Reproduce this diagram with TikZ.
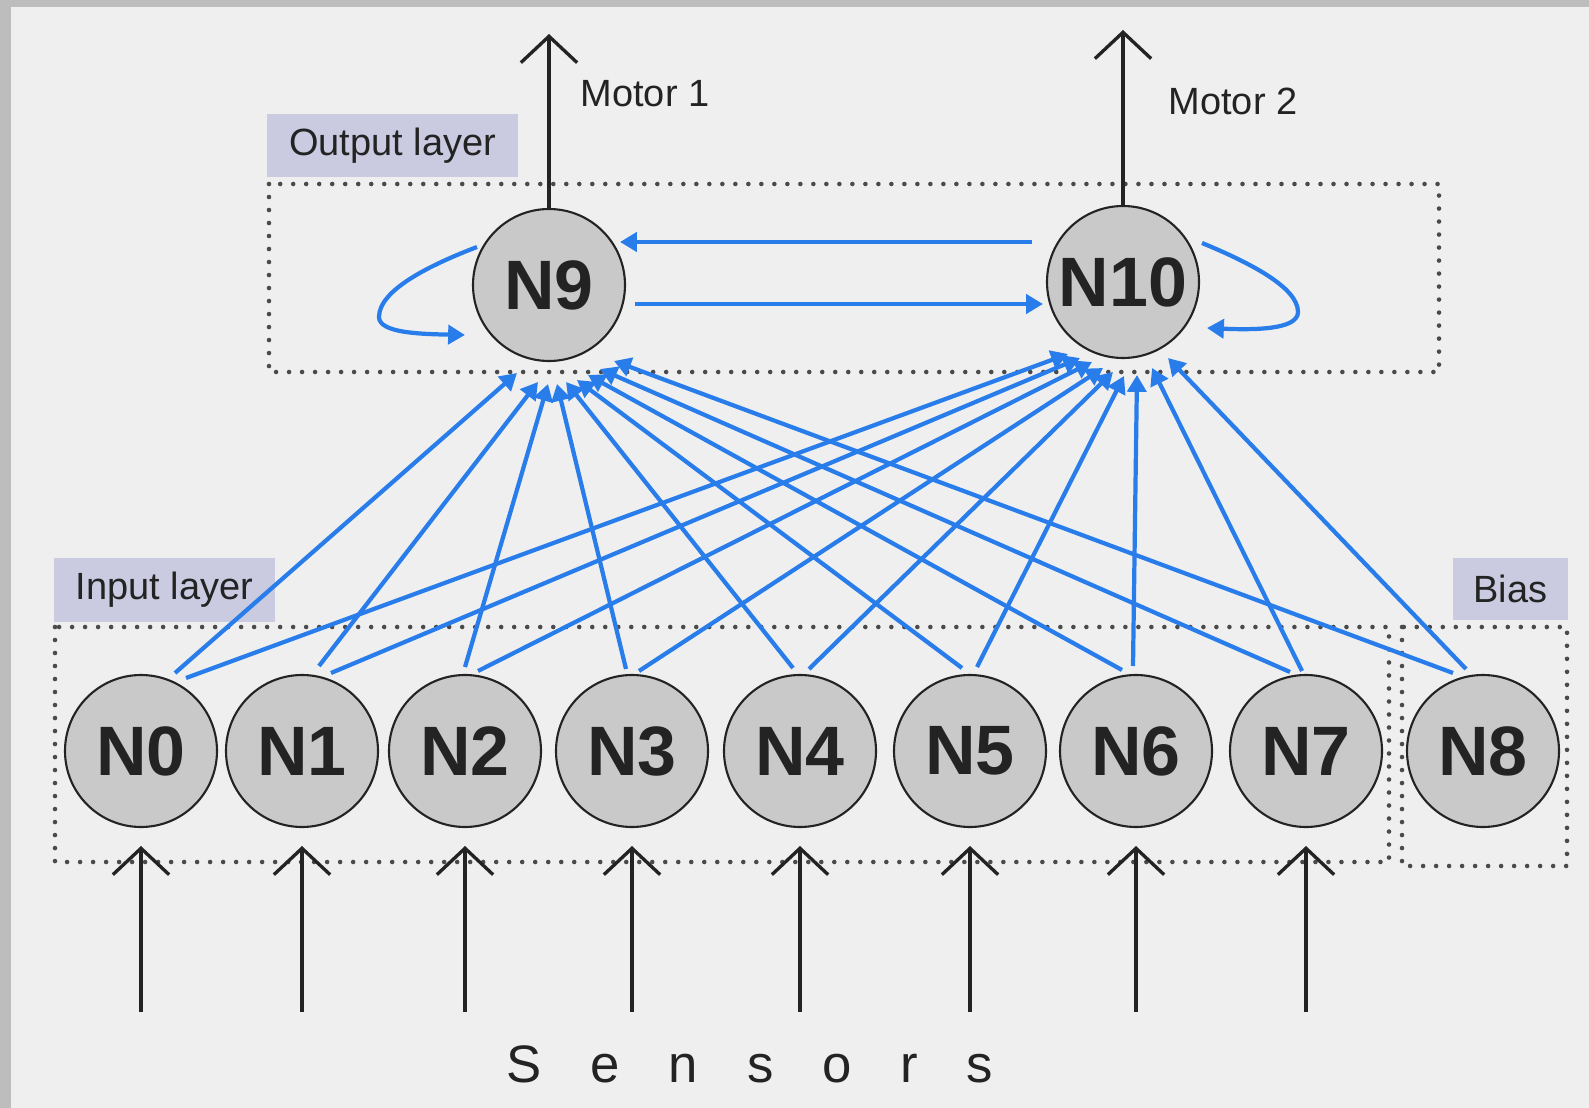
\documentclass[tikz,border=0pt]{standalone}
\usepackage{fontspec}
\setmainfont{Liberation Sans}
\usetikzlibrary{arrows.meta,calc}
\definecolor{bgc}{HTML}{EFEFEF}
\definecolor{framec}{HTML}{BDBDBD}
\definecolor{nfill}{HTML}{C9C9C9}
\definecolor{ink}{HTML}{232323}
\definecolor{wirec}{RGB}{40,125,235}
\definecolor{tagc}{HTML}{CACBE1}
\definecolor{dotc}{HTML}{4A4A4A}
\begin{document}
\begin{tikzpicture}[x=0.1mm,y=-0.1mm,
  neuron/.style={circle,draw=ink,line width=0.6pt,fill=nfill,minimum size=15.2mm,inner sep=0pt,
    font=\fontsize{19.9}{22}\selectfont\bfseries,text=ink},
  wire/.style={draw=wirec,line width=1.2pt,-{Triangle[length=4.8pt,width=5.4pt]}},
  feed/.style={draw=ink,line width=0.9pt,-{Straight Barb[length=7.5pt,width=16pt,line width=0.95pt]}},
  tag/.style={fill=tagc,inner sep=0pt,font=\fontsize{10.8}{13}\selectfont,text=ink},
  lbl/.style={inner sep=0pt,font=\fontsize{10.8}{13}\selectfont,text=ink},
  layerbox/.style={draw=dotc,line width=1.3pt,dash pattern=on 0pt off 3.7pt,line cap=round}]
\path[use as bounding box] (0,0) rectangle (1589,1108);
\fill[framec] (0,0) rectangle (1589,1108);
\fill[bgc] (11,7) rectangle (1589,1108);

% dotted group frames
\draw[layerbox] (269,184) rectangle (1439,372);
\draw[layerbox] (55,627) rectangle (1389,862);
\draw[layerbox] (1402,627) rectangle (1567,866);

% labels
\node[tag,minimum width=25.1mm,minimum height=6.3mm] (outlab) at (392.5,145.5) {Output layer};
\node[tag,minimum width=22.1mm,minimum height=6.4mm] (inlab) at (164.5,590) {Input layer};
\node[tag,minimum width=11.5mm,minimum height=6.2mm] (biaslab) at (1510.5,589) {Bias};
\node[lbl,anchor=base west] (mot1) at (580,107) {Motor 1};
\node[lbl,anchor=base west] (mot2) at (1168,115) {Motor 2};
\node[inner sep=0pt,anchor=base,font=\fontsize{15}{18}\selectfont,text=ink] (sens) at (750,1082)
  {\spaceskip=13.9pt\relax S e n s o r s};

% neurons
\node[neuron] (n0) at (141,751) {N0};
\node[neuron] (n1) at (302,751) {N1};
\node[neuron] (n2) at (465,751) {N2};
\node[neuron] (n3) at (632,751) {N3};
\node[neuron] (n4) at (800,751) {N4};
\node[neuron] (n5) at (970,751) {N5};
\node[neuron] (n6) at (1136,751) {N6};
\node[neuron] (n7) at (1306,751) {N7};
\node[neuron] (n8) at (1483,751) {N8};
\node[neuron] (n9) at (549,285) {N9};
\node[neuron] (n10) at (1123,282) {N10};

% motors
\coordinate (m1) at (549,34);
\coordinate (m2) at (1123,30);
\draw[feed] (n9.north) -- (m1);
\draw[feed] (n10.north) -- (m2);

% sensors
\foreach \n in {n0,n1,n2,n3,n4,n5,n6,n7}
  \draw[feed] ($(\n)+(0,261)$) -- ($(\n)+(0,95)$);

% input -> N9
\draw[wire] ($(n0)+(34,-78)$) -- ($(n9)+(-32,88)$);
\draw[wire] ($(n1)+(17,-85)$) -- ($(n9)+(-11,97)$);
\draw[wire] ($(n2)+(0,-84)$) -- ($(n9)+(-1,99)$);
\draw[wire] ($(n3)+(-6,-82)$) -- ($(n9)+(8,99)$);
\draw[wire] ($(n4)+(-7,-83)$) -- ($(n9)+(17,97)$);
\draw[wire] ($(n5)+(-8,-83)$) -- ($(n9)+(28,95)$);
\draw[wire] ($(n6)+(-14,-81)$) -- ($(n9)+(39,90)$);
\draw[wire] ($(n7)+(-16,-79)$) -- ($(n9)+(51,84)$);
\draw[wire] ($(n8)+(-30,-78)$) -- ($(n9)+(65,76)$);
% input -> N10
\draw[wire] ($(n0)+(45,-73)$) -- ($(n10)+(-55,72)$);
\draw[wire] ($(n1)+(29,-78)$) -- ($(n10)+(-43,76)$);
\draw[wire] ($(n2)+(13,-80)$) -- ($(n10)+(-31,80)$);
\draw[wire] ($(n3)+(7,-80)$) -- ($(n10)+(-20,86)$);
\draw[wire] ($(n4)+(9,-82)$) -- ($(n10)+(-10,90)$);
\draw[wire] ($(n5)+(7,-84)$) -- ($(n10)+(1,94)$);
\draw[wire] ($(n6)+(-3,-85)$) -- ($(n10)+(14,93)$);
\draw[wire] ($(n7)+(-4,-80)$) -- ($(n10)+(29,86)$);
\draw[wire] ($(n8)+(-17,-82)$) -- ($(n10)+(45,76)$);

% recurrent output connections
\draw[wire] ($(n10)+(-91,-40)$) -- ($(n9)+(71,-43)$);
\draw[wire] ($(n9)+(86,19)$) -- ($(n10)+(-80,22)$);
\draw[wire] ($(n9)+(-72,-38)$) .. controls ($(n9)+(-119,-20)$) and ($(n9)+(-170,5)$) .. ($(n9)+(-170,32)$)
  .. controls ($(n9)+(-170,48)$) and ($(n9)+(-129,49)$) .. ($(n9)+(-84,50)$);
\draw[wire] ($(n10)+(79,-39)$) .. controls ($(n10)+(125,-20)$) and ($(n10)+(175,5)$) .. ($(n10)+(175,30)$)
  .. controls ($(n10)+(175,48)$) and ($(n10)+(130,48)$) .. ($(n10)+(84,46)$);
\end{tikzpicture}
\end{document}
